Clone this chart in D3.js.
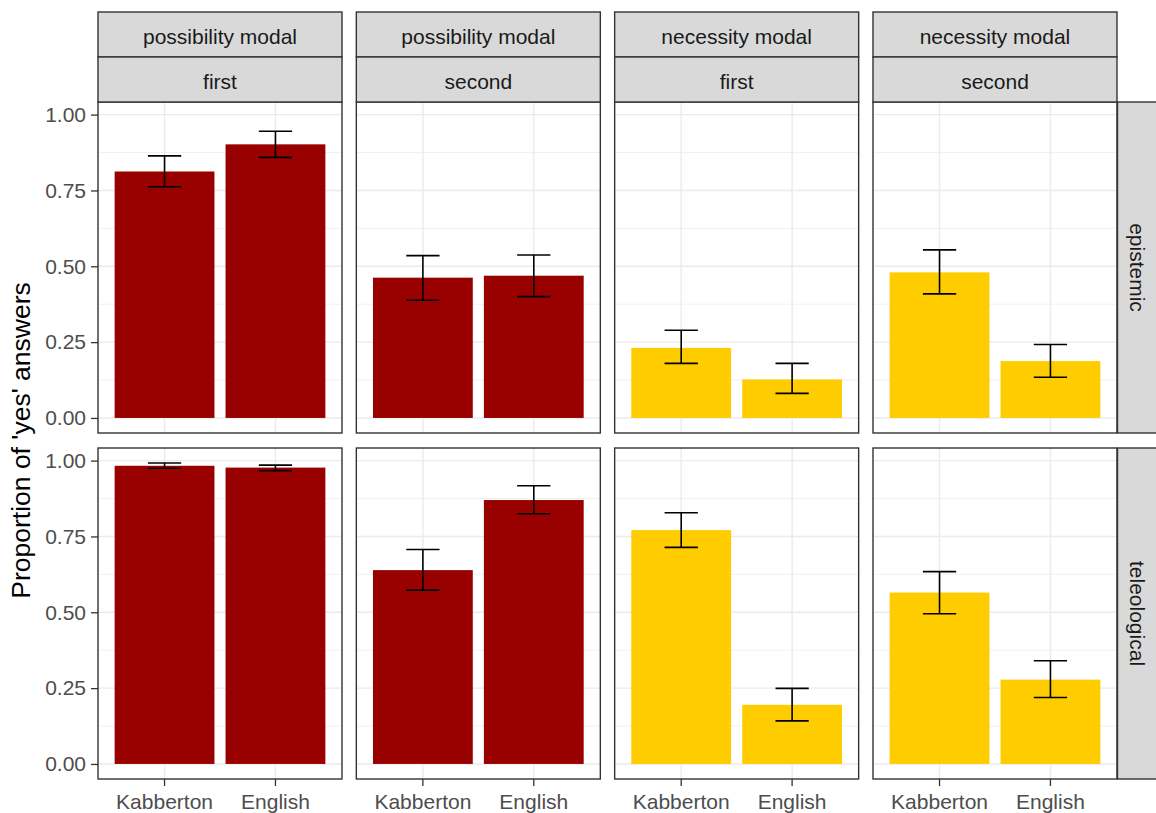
<!DOCTYPE html>
<html>
<head>
<meta charset="utf-8">
<script src="https://cdn.jsdelivr.net/npm/d3@7"></script>
<style>
  body { margin: 0; background: #fff; }
  svg { display: block; font-family: "Liberation Sans", Arial, sans-serif; }
</style>
</head>
<body>
<svg id="chart" width="1156" height="813"></svg>
<script>
// ---------------- data ----------------
const modalTypes = ["possibility modal", "possibility modal", "necessity modal", "necessity modal"];
const positions  = ["first", "second", "first", "second"];
const flavours   = ["epistemic", "teleological"];
const languages  = ["Kabberton", "English"];
const yTicks     = [0, 0.25, 0.5, 0.75, 1];
const yTickLabels = ["0.00", "0.25", "0.50", "0.75", "1.00"];
const yMinorTicks = [0.125, 0.375, 0.625, 0.875];

// per column (panel), values for [Kabberton, English]
const epistemicMean  = [[0.8125, 0.902], [0.4625, 0.469], [0.231, 0.127], [0.480, 0.1875]];
const epistemicLower = [[0.762, 0.859],  [0.388, 0.400],  [0.180, 0.081], [0.409, 0.134]];
const epistemicUpper = [[0.864, 0.945],  [0.535, 0.537],  [0.289, 0.180], [0.554, 0.242]];

const teleologicalMean  = [[0.983, 0.977], [0.639, 0.870], [0.771, 0.195], [0.565, 0.278]];
const teleologicalLower = [[0.975, 0.967], [0.573, 0.825], [0.714, 0.142], [0.495, 0.219]];
const teleologicalUpper = [[0.992, 0.985], [0.707, 0.917], [0.828, 0.249], [0.634, 0.340]];

const modalColors = { "possibility modal": "#990000", "necessity modal": "#FFCC00" };
const yTitle = "Proportion of 'yes' answers";

// ---------------- layout ----------------
const svg = d3.select("#chart");
const panelLeft0 = 98, panelW = 244, colGap = 14.33;
const panelTop0 = 102, panelH = 331, rowGap = 15;
const stripH = 45, stripTop = 12;
const rightStripX = 1117.5;

const meansByRow = [epistemicMean, teleologicalMean];
const lowerByRow = [epistemicLower, teleologicalLower];
const upperByRow = [epistemicUpper, teleologicalUpper];

const dataMax = d3.max([...epistemicUpper.flat(), ...teleologicalUpper.flat()]);
const y = d3.scaleLinear().domain([-0.05 * dataMax, 1.05 * dataMax]).range([panelH, 0]);
const x = d3.scaleBand().domain(languages).range([0, panelW]).paddingInner(0.1).paddingOuter(0.15);
const step = x.step();
const errW = 0.3 * step;

const gridCol = "#EBEBEB", borderCol = "#333333", stripFill = "#D9D9D9";

for (let r = 0; r < 2; r++) {
  for (let c = 0; c < 4; c++) {
    const px = panelLeft0 + c * (panelW + colGap);
    const py = panelTop0 + r * (panelH + rowGap);
    const g = svg.append("g").attr("transform", `translate(${px},${py})`);

    g.append("rect").attr("width", panelW).attr("height", panelH).attr("fill", "#fff");

    // minor grid
    g.selectAll(".ymin").data(yMinorTicks).join("line")
      .attr("x1", 0).attr("x2", panelW)
      .attr("y1", d => y(d)).attr("y2", d => y(d))
      .attr("stroke", gridCol).attr("stroke-width", 0.7);
    // major grid
    g.selectAll(".ymaj").data(yTicks).join("line")
      .attr("x1", 0).attr("x2", panelW)
      .attr("y1", d => y(d)).attr("y2", d => y(d))
      .attr("stroke", gridCol).attr("stroke-width", 1.4);
    g.selectAll(".xmaj").data(languages).join("line")
      .attr("x1", d => x(d) + x.bandwidth() / 2).attr("x2", d => x(d) + x.bandwidth() / 2)
      .attr("y1", 0).attr("y2", panelH)
      .attr("stroke", gridCol).attr("stroke-width", 1.4);

    const rows = languages.map((lang, i) => ({
      lang, mean: meansByRow[r][c][i], lo: lowerByRow[r][c][i], hi: upperByRow[r][c][i]
    }));
    const fill = modalColors[modalTypes[c]];

    g.selectAll(".bar").data(rows).join("rect")
      .attr("x", d => x(d.lang)).attr("width", x.bandwidth())
      .attr("y", d => y(d.mean)).attr("height", d => y(0) - y(d.mean))
      .attr("fill", fill);

    const eb = g.selectAll(".eb").data(rows).join("g")
      .attr("transform", d => `translate(${x(d.lang) + x.bandwidth() / 2},0)`);
    eb.append("line").attr("x1", 0).attr("x2", 0)
      .attr("y1", d => y(d.lo)).attr("y2", d => y(d.hi))
      .attr("stroke", "#000").attr("stroke-width", 1.6);
    eb.append("line").attr("x1", -errW / 2).attr("x2", errW / 2)
      .attr("y1", d => y(d.lo)).attr("y2", d => y(d.lo))
      .attr("stroke", "#000").attr("stroke-width", 1.6);
    eb.append("line").attr("x1", -errW / 2).attr("x2", errW / 2)
      .attr("y1", d => y(d.hi)).attr("y2", d => y(d.hi))
      .attr("stroke", "#000").attr("stroke-width", 1.6);

    g.append("rect").attr("width", panelW).attr("height", panelH)
      .attr("fill", "none").attr("stroke", borderCol).attr("stroke-width", 1.4);

    // y axis on first column
    if (c === 0) {
      const ax = g.append("g").call(d3.axisLeft(y).tickValues(yTicks)
        .tickFormat((d, i) => yTickLabels[i]).tickSize(7).tickPadding(5));
      ax.select(".domain").remove();
      ax.selectAll(".tick line").attr("stroke", borderCol).attr("stroke-width", 1.3);
      ax.selectAll(".tick text").attr("fill", "#4D4D4D").style("font-size", "21px")
        .style("font-family", "'Liberation Sans', Arial, sans-serif");
    }
    // x axis on bottom row
    if (r === 1) {
      const ax = g.append("g").attr("transform", `translate(0,${panelH})`)
        .call(d3.axisBottom(x).tickSize(7).tickPadding(8));
      ax.select(".domain").remove();
      ax.selectAll(".tick line").attr("stroke", borderCol).attr("stroke-width", 1.3);
      ax.selectAll(".tick text").attr("fill", "#4D4D4D").style("font-size", "21px")
        .style("font-family", "'Liberation Sans', Arial, sans-serif");
    }
  }
}

// top strips
for (let c = 0; c < 4; c++) {
  const px = panelLeft0 + c * (panelW + colGap);
  [modalTypes[c], positions[c]].forEach((label, k) => {
    const sy = stripTop + k * stripH;
    svg.append("rect").attr("x", px).attr("y", sy).attr("width", panelW).attr("height", stripH)
      .attr("fill", stripFill).attr("stroke", borderCol).attr("stroke-width", 1.4);
    svg.append("text").attr("x", px + panelW / 2).attr("y", sy + stripH / 2 + 1.5)
      .attr("text-anchor", "middle").attr("dominant-baseline", "central")
      .attr("fill", "#1A1A1A").style("font-size", "21px").text(label);
  });
}

// right strips
flavours.forEach((f, r) => {
  const py = panelTop0 + r * (panelH + rowGap);
  svg.append("rect").attr("x", rightStripX).attr("y", py).attr("width", 60).attr("height", panelH)
    .attr("fill", stripFill).attr("stroke", borderCol).attr("stroke-width", 1.4);
  svg.append("text")
    .attr("transform", `translate(${1137},${py + panelH / 2}) rotate(90)`)
    .attr("text-anchor", "middle").attr("dominant-baseline", "central")
    .attr("fill", "#1A1A1A").style("font-size", "21px").text(f);
});

// y title
svg.append("text")
  .attr("transform", `translate(21,${(panelTop0 + panelTop0 + 2 * panelH + rowGap) / 2}) rotate(-90)`)
  .attr("text-anchor", "middle").attr("dominant-baseline", "central")
  .attr("fill", "#000").style("font-size", "26.5px").text(yTitle);
</script>
</body>
</html>
